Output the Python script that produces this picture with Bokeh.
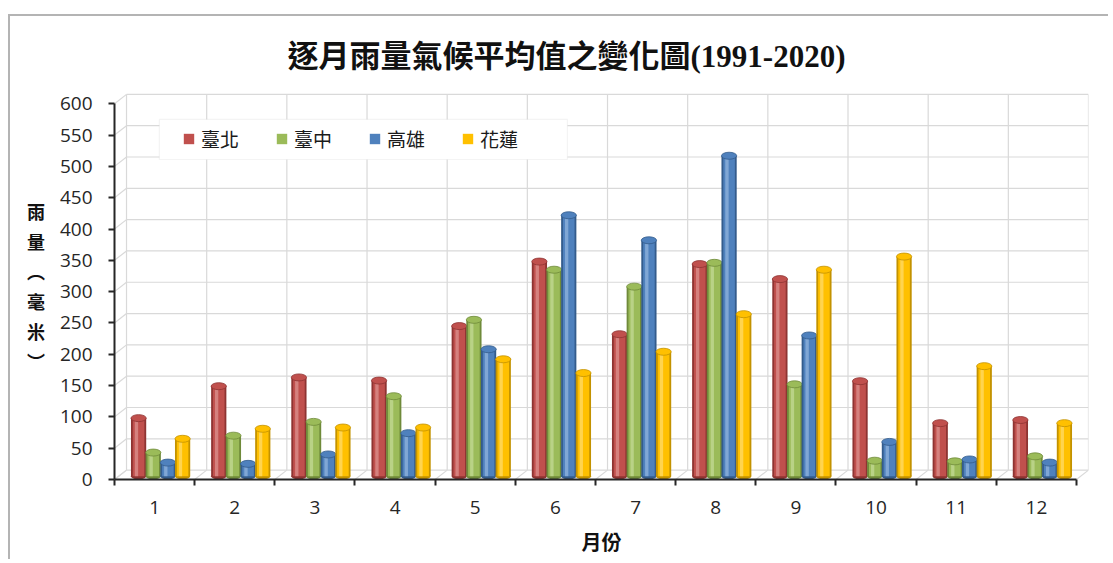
import numpy as np
from bokeh.plotting import figure
from bokeh.models import (Range1d, LinearAxis, FixedTicker, ColumnDataSource, Legend,
                          LegendItem, BoxAnnotation)
from bokeh.embed import file_html
from bokeh.resources import INLINE

# ---------------- data ----------------
months = ["1", "2", "3", "4", "5", "6", "7", "8", "9", "10", "11", "12"]
stations = ["臺北", "臺中", "高雄", "花蓮"]
taipei = [93, 144, 158, 153, 240, 343, 227, 339, 315, 152, 85, 90]
taichung = [38, 65, 87, 128, 250, 330, 303, 341, 147, 25, 24, 32]
kaohsiung = [22, 20, 35, 69, 203, 417, 377, 512, 225, 55, 27, 22]
hualien = [60, 76, 78, 78, 187, 165, 199, 259, 330, 351, 176, 85]
y_ticks = [0, 50, 100, 150, 200, 250, 300, 350, 400, 450, 500, 550, 600]
title_text = "逐月雨量氣候平均值之變化圖(1991-2020)"

# ---------------- style ----------------
base_colors = ["#C0504D", "#9BBB59", "#4F81BD", "#FFC000"]
dark_colors = ["#8E3432", "#6F8A3A", "#345C8C", "#C39200"]
light_colors = ["#E6A9A7", "#D2E5AC", "#A9C6EA", "#FFE38F"]
GRID = "#d9d9d9"
AXIS = "#262626"
DX = 0.15     # 3-D depth offset (category units)
DY = 15.0     # 3-D depth offset (value units)
BW = 0.19     # bar width
STEP = 0.183  # bar spacing inside a group
BASE = 5.0    # bar base (mid depth)

n = len(months)
xc = np.arange(1, n + 1, dtype=float)

p = figure(width=1100, height=545,
           x_range=Range1d(0.5, 12.5 + DX), y_range=Range1d(0, 618),
           output_backend="svg", toolbar_location=None,
           x_axis_type=None, y_axis_type=None,
           min_border_left=104, min_border_right=22,
           min_border_top=76, min_border_bottom=82)
p.outline_line_color = None
p.background_fill_color = "white"
p.border_fill_color = "white"
p.xgrid.visible = False
p.ygrid.visible = False
p.styles = {"margin-top": "14px", "margin-left": "8px",
            "border-top": "2px solid #b4b4b4", "border-left": "2px solid #b4b4b4"}

# ---------------- 3-D walls & grid ----------------
yt = np.array(y_ticks, dtype=float)
edges = np.arange(0.5, n + 1.0, 1.0)
# back wall horizontal grid lines
p.segment(x0=np.full(len(yt), 0.5 + DX), y0=yt + DY,
          x1=np.full(len(yt), n + 0.5 + DX), y1=yt + DY,
          line_color=GRID, line_width=1.2)
# back wall vertical grid lines
p.segment(x0=edges + DX, y0=np.full(len(edges), DY),
          x1=edges + DX, y1=np.full(len(edges), yt.max() + DY),
          line_color=GRID, line_width=1.2)
# side wall diagonals
p.segment(x0=np.full(len(yt), 0.5), y0=yt,
          x1=np.full(len(yt), 0.5 + DX), y1=yt + DY,
          line_color=GRID, line_width=1.2)
# floor diagonals
p.segment(x0=edges, y0=np.zeros(len(edges)),
          x1=edges + DX, y1=np.full(len(edges), DY),
          line_color=GRID, line_width=1.2)

# ---------------- cylinders ----------------
series = [taipei, taichung, kaohsiung, hualien]
legend_items = []
for i, vals in enumerate(series):
    v = np.array(vals, dtype=float)
    x = xc + (i - 1.5) * STEP + DX / 2
    src = ColumnDataSource(dict(x=x, xh=x - BW * 0.14, top=v + BASE,
                                bottom=np.full(n, BASE)))
    p.ellipse(x="x", y="bottom", width=BW, height=6, height_units="screen",
              source=src, fill_color=dark_colors[i], line_color=None)
    p.vbar(x="x", top="top", bottom="bottom", width=BW, source=src,
           fill_color=dark_colors[i], line_color=None)
    body = p.vbar(x="x", top="top", bottom="bottom", width=BW * 0.76, source=src,
                  fill_color=base_colors[i], line_color=None)
    p.vbar(x="xh", top="top", bottom="bottom", width=BW * 0.22, source=src,
           fill_color=light_colors[i], fill_alpha=0.55, line_color=None)
    p.ellipse(x="x", y="top", width=BW, height=7, height_units="screen",
              source=src, fill_color=base_colors[i], line_color=dark_colors[i],
              line_width=0.8)
    legend_items.append(LegendItem(label=stations[i], renderers=[body]))

# ---------------- axes ----------------
xaxis = LinearAxis(ticker=FixedTicker(ticks=list(xc), minor_ticks=list(edges)),
                   bounds=(0.5, n + 0.5),
                   major_label_overrides={float(k + 1): m for k, m in enumerate(months)},
                   major_tick_in=0, major_tick_out=0,
                   minor_tick_in=0, minor_tick_out=6,
                   minor_tick_line_color=AXIS, minor_tick_line_width=2,
                   axis_line_color=AXIS, axis_line_width=2,
                   major_label_standoff=15,
                   major_label_text_font="Open Sans", major_label_text_font_size="19px",
                   major_label_text_color=AXIS,
                   axis_label="月份", axis_label_standoff=10,
                   axis_label_text_font="Noto Sans CJK TC", axis_label_text_font_style="bold",
                   axis_label_text_font_size="20px", axis_label_text_color="#111111")
p.add_layout(xaxis, "below")

yaxis = LinearAxis(ticker=FixedTicker(ticks=y_ticks), bounds=(0, 600),
                   major_tick_in=0, major_tick_out=6,
                   major_tick_line_color=AXIS, major_tick_line_width=2,
                   minor_tick_out=0, minor_tick_in=0,
                   axis_line_color=AXIS, axis_line_width=2,
                   major_label_standoff=16,
                   major_label_text_font="Open Sans", major_label_text_font_size="19px",
                   major_label_text_color=AXIS,
                   axis_label="雨\n量\n︵\n毫\n米\n︶",
                   axis_label_orientation="horizontal", axis_label_standoff=12,
                   axis_label_text_font="Noto Sans CJK TC", axis_label_text_font_style="bold",
                   axis_label_text_font_size="18px", axis_label_text_color="#111111",
                   axis_label_text_line_height=1.15)
p.add_layout(yaxis, "left")

# ---------------- legend (box + items) ----------------
legend_box = BoxAnnotation(left=1.06, right=6.15, bottom=511, top=575,
                           fill_color="white", fill_alpha=1.0,
                           line_color=GRID, line_width=1.2, level="annotation")
p.add_layout(legend_box)

legend = Legend(items=legend_items, orientation="horizontal", location=(68, 327),
                glyph_width=13, glyph_height=13, label_standoff=6, spacing=36,
                padding=6, margin=0,
                label_text_font="Noto Sans CJK TC", label_text_font_size="19px",
                label_text_color="#1a1a1a",
                border_line_color=None, background_fill_alpha=0.0)
p.add_layout(legend, "center")

# ---------------- title ----------------
p.title.text = title_text
p.title.text_font = "Liberation Serif, Noto Sans CJK TC"
p.title.text_font_size = "31px"
p.title.text_font_style = "bold"
p.title.text_color = "#111111"
p.title.align = "left"
p.title.offset = 173
p.title.standoff = 37

open("out.html", "w").write(file_html(p, INLINE))
